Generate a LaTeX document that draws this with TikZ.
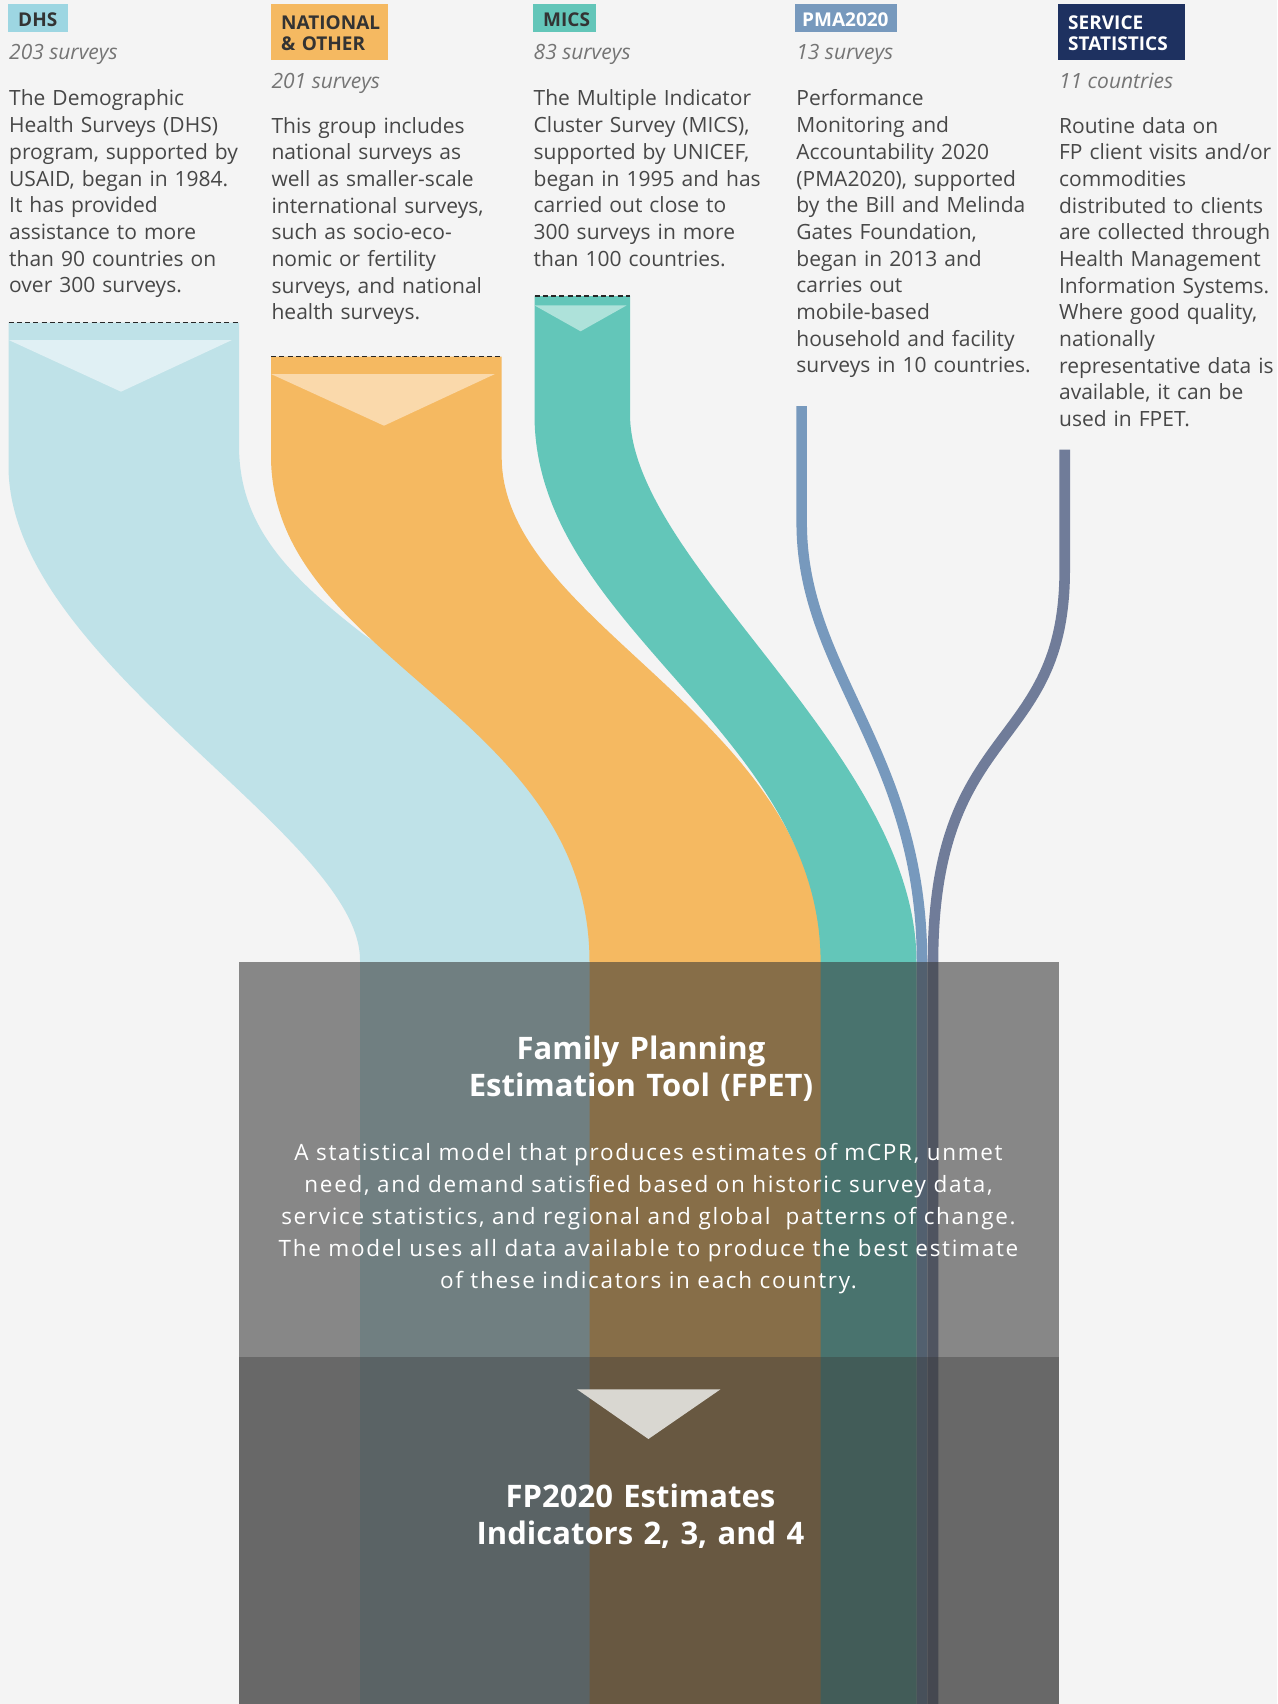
\documentclass[tikz,border=0pt]{standalone}
\usepackage{fontspec}
\setmainfont{Open Sans}
\newfontfamily\boxfont[LetterSpace=7.5]{Open Sans}
\definecolor{bg}{HTML}{F4F4F4}
\definecolor{dhsband}{HTML}{BFE2E8}
\definecolor{dhstri}{HTML}{E0F0F4}
\definecolor{dhslabel}{HTML}{9DD6E2}
\definecolor{natband}{HTML}{F5B961}
\definecolor{nattri}{HTML}{FAD9AB}
\definecolor{micsband}{HTML}{63C6B9}
\definecolor{micstri}{HTML}{AEE2DA}
\definecolor{pmacol}{HTML}{7799BD}
\definecolor{svccol}{HTML}{707C99}
\definecolor{svclabel}{HTML}{1E3160}
\definecolor{txt}{HTML}{474747}
\definecolor{subtxt}{HTML}{757575}
\definecolor{labtxt}{HTML}{333333}
\definecolor{ovup}{HTML}{373737}
\definecolor{ovlow}{HTML}{363636}
\definecolor{arrowtri}{HTML}{D9D7D1}
\begin{document}
\begin{tikzpicture}[x=1pt,y=-1pt,
  body/.style={anchor=base west, inner sep=0pt, text width=262pt, align=left, text=txt, font=\fontsize{21}{26.67}\selectfont},
  subt/.style={anchor=base west, inner sep=0pt, text=subtxt, font=\fontsize{21}{24}\selectfont\itshape},
  lab/.style={anchor=north west, inner xsep=10pt, inner ysep=0pt, align=left, text=labtxt, font=\fontsize{19}{21}\selectfont\bfseries},
  labone/.style={lab, text height=22pt, text depth=6pt},
  labtwo/.style={lab, text height=25pt, text depth=31pt},
  dashline/.style={draw=black!85, line width=1.5pt, dash pattern=on 5pt off 3.3pt},
  pmaline/.style={draw=pmacol, line width=10.5pt},
  svcline/.style={draw=svccol, line width=10.6pt},
  titletxt/.style={anchor=base, inner sep=0pt, text width=640pt, align=center, text=white, font=\fontsize{31}{37.4}\selectfont\bfseries},
  boxtxt/.style={anchor=base, inner sep=0pt, text width=820pt, align=center, text=white, font=\boxfont\fontsize{22.5}{31.9}\selectfont}
]
\useasboundingbox (0,0) rectangle (1277,1704);
\fill[bg] (0,0) rectangle (1277,1704);

% bands
\fill[dhsband] (8.5,322.7) -- (239,322.7) -- (239,445) .. controls (239,520) and (280,570) .. (363,634) .. controls (500,730) and (600,820) .. (600,962) -- (600,1704) -- (360,1704) -- (360,960) .. controls (360,834) and (8.5,661) .. (8.5,466) -- cycle;
\fill[natband] (271,356.7) -- (501.7,356.7) -- (501.7,457) .. controls (501.7,625) and (821.5,718) .. (821.5,962) -- (821.5,1704) -- (589.5,1704) -- (589.5,962) .. controls (589.5,712) and (271,660) .. (271,456) -- cycle;
\fill[micsband] (534.5,296) -- (630,296) -- (630,414) .. controls (630,563) and (916.5,753) .. (916.5,962) -- (916.5,1704) -- (820.6,1704) -- (820.6,962) .. controls (820.6,732) and (534.5,626) .. (534.5,415) -- cycle;

% inner triangles
\fill[dhstri] (8.7,340) -- (232,340) -- (121,391.7) -- cycle;
\fill[nattri] (271,374) -- (495,374) -- (384,425.7) -- cycle;
\fill[micstri] (534.5,305.4) -- (626.6,305.4) -- (580.6,331.3) -- cycle;

% dashed tops
\draw[dashline] (8.5,322.7) -- (239,322.7);
\draw[dashline] (271,356.7) -- (501.7,356.7);
\draw[dashline] (534.5,296) -- (630,296);

% thin flows
\draw[pmaline] (801.7,406) -- (801.7,523) .. controls (801.7,672) and (922,753) .. (922,962) -- (922,1704);
\draw[svcline] (1064.7,449.6) -- (1064.7,570) .. controls (1064.7,754) and (933,719) .. (933,962) -- (933,1704);

% overlay boxes
\fill[ovup, opacity=0.578] (239,962) rectangle (1058.5,1356.5);
\fill[ovlow, opacity=0.735] (239,1356.5) rectangle (1058.5,1704);
\fill[arrowtri] (577,1389.3) -- (720.5,1389.3) -- (648.4,1439) -- cycle;

% labels
\node[labone, fill=dhslabel, text width=40pt] (dhslab) at (8,4) {DHS};
\node[labtwo, fill=natband, text width=97pt] (natlab) at (271,4) {NATIONAL\\\& OTHER};
\node[labone, fill=micsband, text width=43pt] (micslab) at (533,4) {MICS};
\node[labone, fill=pmacol, text=white, text width=82pt, inner xsep=10pt] (pmalab) at (795,4) {\hspace*{-3pt}PMA2020};
\node[labtwo, fill=svclabel, text=white, text width=107pt] (svclab) at (1058,4) {SERVICE\\STATISTICS};

% subtitles
\node[subt] (dhssub) at (9,60) {203 surveys};
\node[subt] (natsub) at (271.4,88.3) {201 surveys};
\node[subt] (micssub) at (533.5,60) {83 surveys};
\node[subt] (pmasub) at (796.2,60) {13 surveys};
\node[subt] (svcsub) at (1058.9,88.3) {11 countries};

% descriptions
\node[body] (dhstxt) at (9,106) {The Demographic\\Health Surveys (DHS)\\program, supported by\\USAID, began in 1984.\\It has provided\\assistance to more\\than 90 countries on\\over 300 surveys.};
\node[body] (nattxt) at (271.4,133.3) {This group includes\\national surveys as\\well as smaller-scale\\international surveys,\\such as socio-eco-\\nomic or fertility\\surveys, and national\\health surveys.};
\node[body] (micstxt) at (533.5,106) {The Multiple Indicator\\Cluster Survey (MICS),\\supported by UNICEF,\\began in 1995 and has\\carried out close to\\300 surveys in more\\than 100 countries.};
\node[body] (pmatxt) at (796.2,106) {Performance\\Monitoring and\\Accountability 2020\\(PMA2020), supported\\by the Bill and Melinda\\Gates Foundation,\\began in 2013 and\\carries out\\mobile-based\\household and facility\\surveys in 10 countries.};
\node[body, text width=218pt] (svctxt) at (1058.9,133.3) {Routine data on\\FP client visits and/or\\commodities\\distributed to clients\\are collected through\\Health Management\\Information Systems.\\Where good quality,\\nationally\\representative data is\\available, it can be\\used in FPET.};

% box texts
\node[titletxt] (fpet) at (641,1059.3) {Family Planning\\Estimation Tool (FPET)};
\node[boxtxt] (fpetdesc) at (648.5,1160.7) {A statistical model that produces estimates of mCPR, unmet\\need, and demand satisfied based on historic survey data,\\service statistics, and regional and global~ patterns of change.\\The model uses all data available to produce the best estimate\\of these indicators in each country.};
\node[titletxt] (fp2020) at (640.5,1507.3) {FP2020 Estimates\\Indicators 2, 3, and 4};
\end{tikzpicture}
\end{document}
